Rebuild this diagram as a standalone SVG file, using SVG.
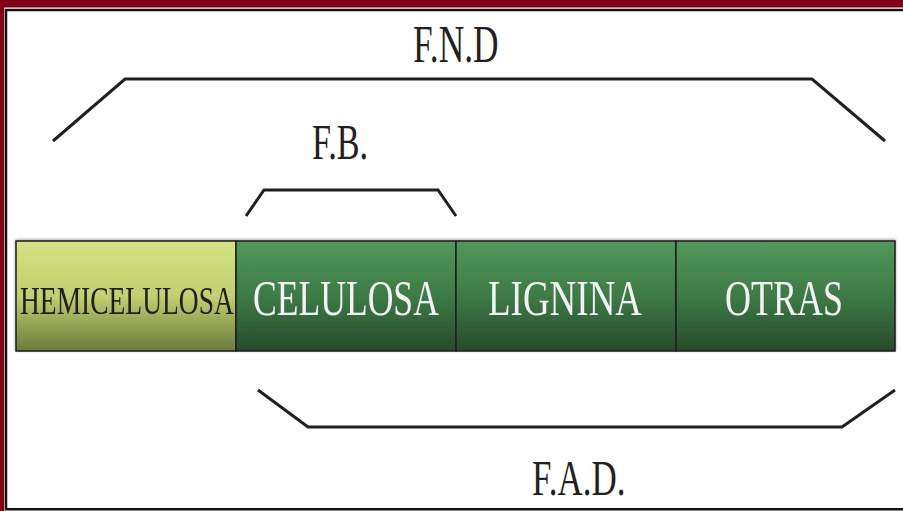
<svg xmlns="http://www.w3.org/2000/svg" width="903" height="511" viewBox="0 0 903 511">
<defs>
<linearGradient id="gHemi" x1="0" y1="0" x2="0" y2="1">
<stop offset="0" stop-color="#d6e283"/>
<stop offset="0.5" stop-color="#c2d06f"/>
<stop offset="1" stop-color="#6a7a3a"/>
</linearGradient>
<linearGradient id="gGreen" x1="0" y1="0" x2="0" y2="1">
<stop offset="0" stop-color="#52985c"/>
<stop offset="0.5" stop-color="#3d7a46"/>
<stop offset="1" stop-color="#284a2b"/>
</linearGradient>
<filter id="sh" x="-5%" y="-20%" width="110%" height="140%">
<feGaussianBlur in="SourceAlpha" stdDeviation="1.5"/>
<feOffset dx="0" dy="-1"/>
<feComponentTransfer><feFuncA type="linear" slope="0.35"/></feComponentTransfer>
<feMerge><feMergeNode/><feMergeNode in="SourceGraphic"/></feMerge>
</filter>
</defs>
<style>
.frame{fill:#800016}
.edge{stroke:#111;stroke-width:2.5;fill:none}
.box{stroke:#1e1e1e;stroke-width:1.5}
.br{fill:none;stroke:#231f20;stroke-width:3;stroke-linejoin:miter}
.lbl{font-family:"Liberation Serif","Times New Roman",serif;fill:#231f20}
.in{font-family:"Liberation Serif","Times New Roman",serif;fill:#f2f2f2}
</style>
<rect width="903" height="511" fill="#ffffff"/>
<rect class="frame" x="0" y="0" width="903" height="7.5"/>
<rect class="frame" x="0" y="0" width="4.2" height="511"/>
<path class="edge" d="M903,10 H6 V509.2 H903"/>

<g id="connectors">
<polyline class="br" points="53,141 125,79 812,79 885,141"/>
<polyline class="br" points="246,216 264,190 438,190 456,216"/>
<polyline class="br" points="258,390 308,427 842,427 895,390"/>
</g>

<g id="bar" filter="url(#sh)">
<g id="hemicelulosa">
<rect class="box" x="16" y="241" width="220" height="110" fill="url(#gHemi)"/>
<text class="lbl" transform="translate(20,314) scale(0.705,1)" font-size="39">HEMICELULOSA</text>
</g>
<g id="celulosa">
<rect class="box" x="236" y="241" width="220" height="110" fill="url(#gGreen)"/>
<text class="in" transform="translate(253,315) scale(0.712,1)" font-size="50">CELULOSA</text>
</g>
<g id="lignina">
<rect class="box" x="456" y="241" width="220" height="110" fill="url(#gGreen)"/>
<text class="in" transform="translate(488,315) scale(0.74,1)" font-size="50">LIGNINA</text>
</g>
<g id="otras">
<rect class="box" x="676" y="241" width="219" height="110" fill="url(#gGreen)"/>
<text class="in" transform="translate(725,315) scale(0.72,1)" font-size="50">OTRAS</text>
</g>
</g>

<g id="fnd">
<text class="lbl" transform="translate(413,62) scale(0.68,1)" font-size="52">F.N.D</text>
</g>
<g id="fb">
<text class="lbl" transform="translate(312,159) scale(0.67,1)" font-size="51">F.B.</text>
</g>
<g id="fad">
<text class="lbl" transform="translate(532,495) scale(0.70,1)" font-size="50">F.A.D.</text>
</g>
</svg>
